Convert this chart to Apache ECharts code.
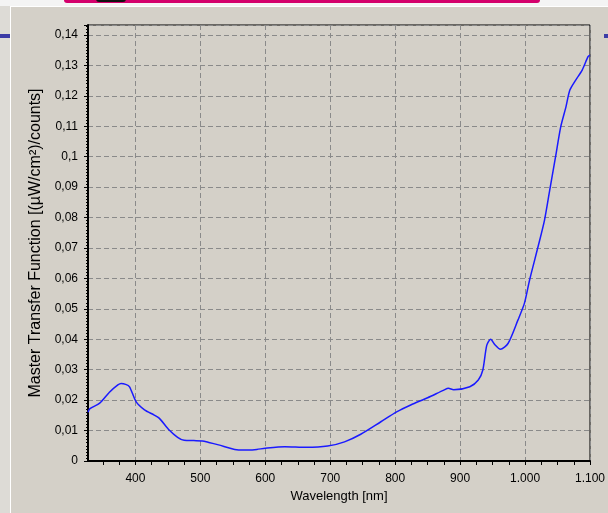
<!DOCTYPE html>
<html>
<head>
<meta charset="utf-8">
<script src="https://cdn.jsdelivr.net/npm/echarts@6/dist/echarts.min.js"></script>
<style>
  html, body { margin: 0; padding: 0; background: #d4d0c8; }
  #chart { width: 608px; height: 513px; }
</style>
</head>
<body>
<div id="chart"></div>
<script>
// wavelength [nm] and master transfer function values
const wavelengths = [327, 330, 345, 360, 373, 378, 385, 391, 401, 414, 429, 437, 452, 465, 475, 490, 503, 513, 528, 556, 575, 587, 600, 630, 663, 696, 722, 747, 778, 803, 824, 850, 875, 882, 890, 915, 928, 935, 941, 947, 954, 962, 974, 989, 999, 1007, 1020, 1030, 1038, 1047, 1055, 1063, 1069, 1078, 1088, 1097, 1100];
const transfer = [0.0160, 0.0172, 0.0190, 0.0226, 0.0250, 0.0255, 0.0252, 0.0244, 0.0195, 0.0168, 0.0151, 0.0140, 0.0102, 0.0078, 0.0068, 0.0067, 0.0066, 0.0061, 0.0053, 0.0037, 0.0036, 0.0038, 0.0042, 0.0047, 0.0045, 0.0049, 0.0063, 0.0088, 0.0129, 0.0162, 0.0184, 0.0208, 0.0233, 0.0239, 0.0234, 0.0244, 0.0266, 0.0299, 0.0380, 0.0400, 0.0381, 0.0367, 0.0387, 0.0463, 0.0518, 0.0595, 0.0704, 0.0792, 0.0890, 0.1000, 0.1099, 0.1164, 0.1219, 0.1252, 0.1285, 0.1329, 0.1334];
const xLabelValues = [400, 500, 600, 700, 800, 900, 1000, 1100];
const xTickValues = [350, 375, 400, 425, 450, 475, 500, 525, 550, 575, 600, 625, 650, 675, 700, 725, 750, 775, 800, 825, 850, 875, 900, 925, 950, 975, 1000, 1025, 1050, 1075, 1100];

const font = 'Liberation Sans, Arial, sans-serif';
const gridColor = '#8a8a8a';

const chart = echarts.init(document.getElementById('chart'));

const fmtX = v => {
  const s = String(Math.round(v));
  return s.length > 3 ? s.slice(0, s.length - 3) + '.' + s.slice(-3) : s;
};
const fmtY = v => String(+v.toFixed(3)).replace('.', ',');

chart.setOption({
  backgroundColor: '#d4d0c8',
  animation: false,
  graphic: [
    { type: 'rect', shape: { x: 0, y: 0, width: 10, height: 513 }, style: { fill: '#dddbd6' }, silent: true },
    { type: 'rect', shape: { x: 0, y: 0, width: 608, height: 6 }, style: { fill: '#f4f4f4' }, silent: true },
    { type: 'rect', shape: { x: 64, y: -4, width: 476, height: 7, r: 3 }, style: { fill: '#d4006c' }, silent: true },
    { type: 'rect', shape: { x: 96, y: -4, width: 30, height: 6, r: 3 }, style: { fill: '#111' }, silent: true },
    { type: 'line', shape: { x1: 10.5, y1: 6, x2: 10.5, y2: 513 }, style: { stroke: '#ffffff', lineWidth: 1 }, silent: true },
    { type: 'line', shape: { x1: 10, y1: 6.5, x2: 608, y2: 6.5 }, style: { stroke: '#ffffff', lineWidth: 1 }, silent: true },
    { type: 'rect', shape: { x: 0, y: 34, width: 10, height: 4 }, style: { fill: '#3c3ca6' }, silent: true },
    { type: 'rect', shape: { x: 604, y: 34, width: 4, height: 4 }, style: { fill: '#3c3ca6' }, silent: true }
  ],
  grid: {
    left: 88,
    right: 14,
    top: 25,
    bottom: 52,
    show: true,
    backgroundColor: '#d4d0c8',
    borderColor: '#000',
    borderWidth: 1
  },
  xAxis: [
    {
      type: 'value',
      min: 327,
      max: 1100,
      splitNumber: 8,
      name: 'Wavelength [nm]',
      nameLocation: 'middle',
      nameGap: 28,
      nameTextStyle: { fontFamily: font, fontSize: 13, color: '#000' },
      axisLine: { show: true, lineStyle: { color: '#000', width: 2 } },
      axisTick: { show: false },
      axisLabel: {
        customValues: xLabelValues,
        fontFamily: font,
        fontSize: 12,
        color: '#000',
        margin: 12,
        formatter: fmtX
      },
      splitLine: { show: true, lineStyle: { color: gridColor, type: [5, 3], width: 1 } }
    },
    {
      // ticks only, every 25 nm
      type: 'value',
      min: 327,
      max: 1100,
      position: 'bottom',
      axisLine: { show: false },
      axisLabel: { show: false },
      splitLine: { show: false },
      axisTick: {
        show: true,
        customValues: xTickValues,
        length: 4,
        lineStyle: { color: '#000', width: 1 }
      }
    }
  ],
  yAxis: {
    type: 'value',
    min: 0,
    max: 0.1433,
    interval: 0.01,
    name: 'Master Transfer Function [(µW/cm²)/counts]',
    nameLocation: 'middle',
    nameGap: 36,
    nameTextStyle: { fontFamily: font, fontSize: 16, color: '#000' },
    axisLine: { show: true, lineStyle: { color: '#000', width: 2 } },
    axisTick: { show: true, length: 4, lineStyle: { color: '#000' } },
    minorTick: { show: true, splitNumber: 10, length: 2, lineStyle: { color: '#000' } },
    axisLabel: {
      fontFamily: font,
      fontSize: 12,
      color: '#000',
      margin: 10,
      showMaxLabel: false,
      formatter: fmtY
    },
    splitLine: { show: true, lineStyle: { color: gridColor, type: [5, 3], width: 1 } }
  },
  series: [
    {
      type: 'line',
      xAxisIndex: 0,
      data: wavelengths.map((w, i) => [w, transfer[i]]),
      showSymbol: false,
      smooth: 0.25,
      lineStyle: { color: '#1a1aff', width: 1.5 },
      z: 5
    }
  ]
});
</script>
</body>
</html>
